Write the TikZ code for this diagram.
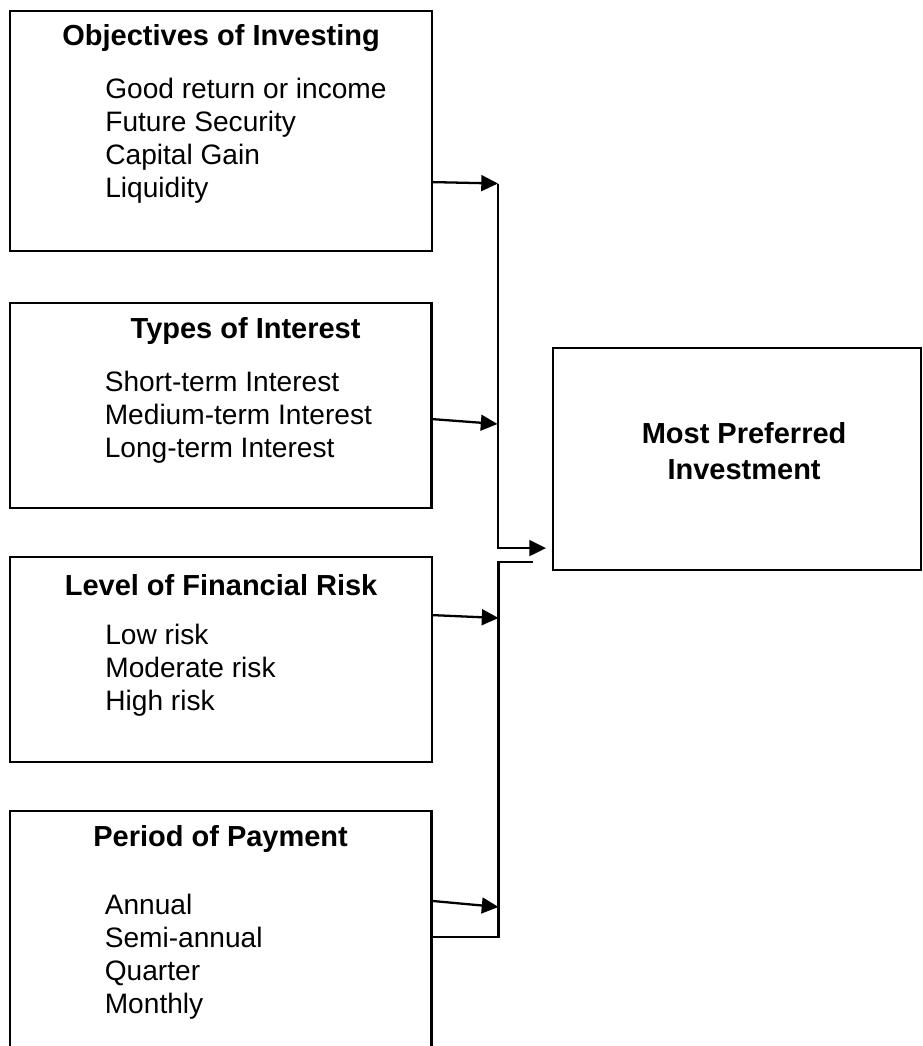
\documentclass[tikz,border=0pt]{standalone}
\usepackage{fontspec}
\setmainfont{Liberation Sans}
\usetikzlibrary{shapes,arrows.meta,positioning}
\tikzstyle{block} = [rectangle, draw, line width=1.3pt, anchor=north west,
    minimum width=8.44cm, minimum height=4.1cm, inner sep=0pt]
\tikzstyle{result} = [rectangle, draw, line width=1.3pt, anchor=north west,
    minimum width=7.36cm, minimum height=4.44cm, inner sep=0pt]
\tikzstyle{head} = [font=\fontsize{16.5}{20.5}\selectfont\bfseries, inner sep=0pt]
\tikzstyle{items} = [font=\fontsize{16}{18.8}\selectfont, align=left, anchor=north west, inner sep=0pt]
\tikzstyle{line} = [draw, line width=1.3pt, -{Triangle[length=9.5pt,width=9pt]}]

\begin{document}
\begin{tikzpicture}[x=0.02cm, y=-0.02cm]
    \clip (0,0) rectangle (923,1046);
    % Place nodes
    \node [block, minimum height=4.8cm] (obj) at (9,10) {};
    \node [block] (int) at (8.5,302) {};
    \node [block] (risk) at (9,556) {};
    \node [block, minimum height=5.4cm] (pay) at (8.5,810) {};
    \node [result] (best) at (552,347) {};

    \node [head] (objh) at ([yshift=-0.56cm]obj.north) {Objectives of Investing};
    \node [head] (inth) at ([xshift=0.5cm,yshift=-0.58cm]int.north) {Types of Interest};
    \node [head] (riskh) at ([yshift=-0.58cm]risk.north) {Level of Financial Risk};
    \node [head] (payh) at ([yshift=-0.58cm]pay.north) {Period of Payment};
    \node [head, align=center] (besth) at ([xshift=0.14cm,yshift=0.16cm]best.center) {Most Preferred\\Investment};

    \node [items] (objl) at ([xshift=1.92cm,yshift=-1.36cm]obj.north west) {Good return or income\\Future Security\\Capital Gain\\Liquidity};
    \node [items] (intl) at ([xshift=1.92cm,yshift=-1.38cm]int.north west) {Short-term Interest\\Medium-term Interest\\Long-term Interest};
    \node [items] (riskl) at ([xshift=1.92cm,yshift=-1.36cm]risk.north west) {Low risk\\Moderate risk\\High risk};
    \node [items] (payl) at ([xshift=1.92cm,yshift=-1.68cm]pay.north west) {Annual\\Semi-annual\\Quarter\\Monthly};

    % junctions on the two brackets
    \coordinate (j1) at (498,183.5);
    \coordinate (j2) at (497.5,424);
    \coordinate (j3) at (498.5,618);
    \coordinate (j4) at (498.5,907);
    \coordinate (jbot) at (498.5,937);

    % Draw edges
    \path [line] ([yshift=-1.02cm]obj.east) -- (j1);
    \path [line] ([yshift=-0.27cm]int.east) -- (j2);
    \path [line] ([yshift=0.89cm]risk.east) -- (j3);
    \path [line] ([yshift=-1.82cm]pay.north east) -- (j4);
    \path [line] (j1) |- ([xshift=-0.12cm,yshift=-1.78cm]best.west);
    \draw [line width=1.3pt] ([xshift=-0.38cm,yshift=-2.06cm]best.west) -| (jbot) -- (jbot -| pay.east);
\end{tikzpicture}
\end{document}
